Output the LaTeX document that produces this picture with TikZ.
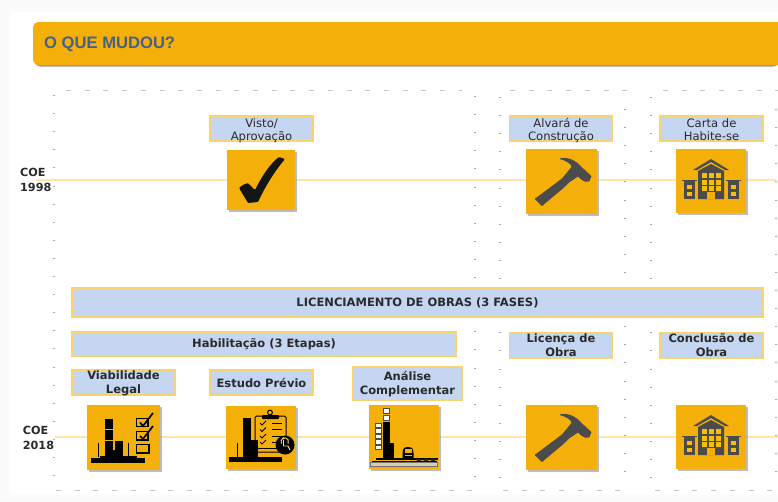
\documentclass[tikz,border=0pt]{standalone}
\usepackage{fontspec}
\setmainfont{DejaVu Sans}
\newfontfamily\headfont{Liberation Sans}
\definecolor{amber}{HTML}{F4AF08}
\definecolor{boxblue}{HTML}{C5D6F2}
\definecolor{boxedge}{HTML}{F9D36F}
\definecolor{timeline}{HTML}{FFE5A8}
\definecolor{dots}{HTML}{C4C4C4}
\definecolor{icongray}{HTML}{4B4B4B}
\definecolor{headtext}{HTML}{46608A}
\definecolor{ink}{HTML}{2A2A2A}
\definecolor{pageback}{HTML}{FBFBFB}
\newcommand{\twolines}[3]{\raisebox{#3}[0pt][0pt]{\begin{tabular}{@{}c@{}}#1\\#2\end{tabular}}}
\tikzset{
  x=1pt,y=-1pt,
  labelbox/.style={draw=boxedge,line width=1.3pt,fill=boxblue,inner sep=0pt,text=ink,align=center},
  plainfont/.style={font=\fontsize{11.6}{13.5}\selectfont},
  boldfont/.style={font=\fontsize{11.5}{13.5}\selectfont\bfseries},
  iconbox/.style={fill=amber,inner sep=0pt,anchor=north west,
    preaction={fill=black!40,opacity=.65,transform canvas={shift={(1.3pt,-1.4pt)}}}},
  hdash/.style={dots,line width=1pt,dash pattern=on 5pt off 13.7pt},
  vdash/.style={dots!85!black,line width=2.8pt,dash pattern=on 1pt off 17.1pt},
  yearlabel/.style={font=\fontsize{11.2}{15}\selectfont\bfseries,text=ink,align=left,inner sep=0pt,anchor=west},
  timelinepath/.style={timeline,line width=1.4pt},
  pics/hammer/.style={code={
    \filldraw[icongray,line width=.8pt,line join=round] (34.3,9.7) .. controls (42,8) and (50,12) .. (55,18) -- (65,27.3) -- (63,32)
      .. controls (60,33) and (58,32) .. (56,30.5) -- (52,27) -- (43,33) -- (38,38) -- (16,56.5)
      -- (9.3,50) -- (32,33) -- (37,29) -- (46,18) .. controls (46,15) and (41,11.5) .. (34.3,9.7) -- cycle;
  }},
  pics/building/.style={code={
    \fill[icongray] (35,10) -- (53,21) -- (49,21) -- (35,13) -- (21,21) -- (17,21) -- cycle;
    \fill[icongray] (35,15) -- (48,22) -- (48,50) -- (22,50) -- (22,22) -- cycle;
    \fill[icongray] (8,32) rectangle (19,50);
    \fill[icongray] (52,32) rectangle (63,50);
    \fill[icongray] (6,30.5) rectangle (21,31.2);
    \fill[icongray] (50,30.5) rectangle (65,31.2);
    \foreach \wx in {25.5,32.6,39.7}{\foreach \wy in {24,30.7,37.4}{
      \fill[amber!80!yellow] (\wx,\wy) rectangle +(5,5);}}
    \fill[amber] (31,43) rectangle (39,50);
    \foreach \wx in {11,55}{\foreach \wy in {36,43}{
      \fill[amber!80!yellow] (\wx,\wy) rectangle +(5.4,4.4);}}
  }}
}
\begin{document}
\begin{tikzpicture}
\useasboundingbox (0,0) rectangle (778,501);
\fill[pageback] (0,0) rectangle (778,501);
\fill[white] (10,12) rectangle (778,495);

% header
\fill[black!40] (34.5,23.5) [rounded corners=6pt] -- (34.5,66.5) -- (779,66.5) [sharp corners] -- (779,23.5) -- cycle;
\fill[amber,rounded corners=6pt] (33,22) -- (33,65) -- (790,65) -- (790,22) -- cycle;
\node[anchor=west,inner sep=0pt,text=headtext,font=\headfont\fontsize{16.6}{18}\selectfont\bfseries] (title) at (44,44) {O QUE MUDOU?};

% dotted frame
\draw[hdash] (66,90) -- (462,90);
\draw[hdash] (510,90) -- (628,90);
\draw[hdash] (663,90) -- (778,90);
\draw[hdash] (56,490) -- (477,490);
\draw[hdash] (503,490) -- (625,490);
\draw[hdash] (655,490) -- (778,490);
\foreach \cx/\cy in {54/95,475/96,500/97,625/109,651/97,776/109}{
  \draw[vdash] (\cx,\cy) -- (\cx,478);
}

% time lines
\coordinate (a1) at (36,180);
\coordinate (a2) at (776,180);
\coordinate (b1) at (55,437);
\coordinate (b2) at (778,437);
\draw[timelinepath] (a1) -- (a2);
\draw[timelinepath] (b1) -- (b2);

\node[yearlabel] (coe98) at (20,179.5) {COE\\1998};
\node[yearlabel] (coe18) at (22.7,437.5) {COE\\2018};

% 1998 row
\node[labelbox,plainfont,minimum width=103pt,minimum height=25pt] (visto) at (261.5,128.5) {\twolines{Visto/}{Aprovação}{-5.8pt}};
\node[labelbox,plainfont,minimum width=103pt,minimum height=25pt] (alvara) at (561,128.5) {\twolines{Alvará de}{Construção}{-5.8pt}};
\node[labelbox,plainfont,minimum width=103pt,minimum height=25pt] (carta) at (711.5,128.5) {\twolines{Carta de}{Habite-se}{-5.8pt}};

\node[iconbox,minimum width=68pt,minimum height=60pt] (icheck) at (227,150) {};
\fill[black!92,rounded corners=1pt] (239,188) .. controls (242,185) and (245,184) .. (248,183)
  -- (255,190) .. controls (262,176) and (270,164) .. (279,157) -- (285,159)
  .. controls (274,172) and (265,187) .. (258,202) -- (248,203) -- cycle;

\node[iconbox,minimum width=71pt,minimum height=65pt] (ihammer1) at (526,149) {};
\pic at (526,149) {hammer};
\node[iconbox,minimum width=70pt,minimum height=64pt] (ibuild1) at (676,149) {};
\pic at (676,149) {building};

% phases
\node[labelbox,boldfont,minimum width=691pt,minimum height=29pt] (fases) at (417.5,302.5) {LICENCIAMENTO DE OBRAS (3 FASES)};
\node[labelbox,boldfont,minimum width=384pt,minimum height=24pt] (habil) at (264,344) {Habilitação (3 Etapas)};
\node[labelbox,boldfont,minimum width=103pt,minimum height=25pt] (licenca) at (561,345.5) {\twolines{Licença de}{Obra}{-4.4pt}};
\node[labelbox,boldfont,minimum width=103pt,minimum height=25pt] (conclusao) at (711.5,345.5) {\twolines{Conclusão de}{Obra}{-4.4pt}};
\node[labelbox,boldfont,minimum width=103pt,minimum height=25pt] (viab) at (123.5,382.5) {\twolines{Viabilidade}{Legal}{-4.4pt}};
\node[labelbox,boldfont,minimum width=103pt,minimum height=25pt] (estudo) at (261.5,382.5) {Estudo Prévio};
\node[labelbox,boldfont,minimum width=109pt,minimum height=33pt] (analise) at (407.5,383.5) {\twolines{Análise}{Complementar}{-4.4pt}};

% Viabilidade icon
\node[iconbox,minimum width=73pt,minimum height=65pt] (iviab) at (87,405) {};
\fill[black] (91,458) rectangle (145,463);
\fill[black] (100,456) rectangle (137,458.5);
\foreach \by in {419,430,441}{\fill[black] (104.5,\by) rectangle +(8.5,10);}
\fill[black] (115,441) rectangle (123,450.5);
\fill[black] (104.5,450) rectangle (123,457);
\draw[black,line width=.7pt] (98,443) -- (98,457) (128,443) -- (128,457);
\draw[black,line width=1.1pt] (136.5,418.5) rectangle (148,426.5) (136.5,431.5) rectangle (148,440) (136.5,444.5) rectangle (149,453);
\draw[black,line width=1.7pt] (140,422.5) -- (143,426) -- (153,413) (140,436) -- (143,439) -- (153,426);

% Estudo icon
\node[iconbox,minimum width=70pt,minimum height=63pt] (iestudo) at (226,406) {};
\fill[black] (229,457) rectangle (282,462);
\fill[black] (243,418) rectangle (251,458);
\fill[black] (251,440) rectangle (258,458);
\draw[black,line width=.7pt] (237,443) -- (237,457);
\draw[black,line width=1pt,rounded corners=1.5pt] (255,416) rectangle (286,452);
\fill[black,rounded corners=1pt] (262,415) rectangle (279,419);
\draw[black,line width=1pt] (270,412.5) circle (2.4);
\foreach \ly in {423,429.5,436,442}{
  \draw[black,line width=1pt] (272,\ly) -- (282,\ly);
  \draw[black,line width=.9pt] (260,\ly) -- (262,{\ly+2}) -- (266,{\ly-2});
}
\draw[black,line width=.8pt] (258,448) -- (276,448);
\fill[black] (285,445) circle (9.5);
\draw[boxedge,line width=.9pt] (283.5,440) -- (283.5,446) -- (288,446) -- (290,450);
\draw[boxedge,line width=.9pt] (281.5,443.5) arc[start angle=150,end angle=390,radius=3.8];
\fill[boxedge] (283.5,438.3) circle (1.1);

% Analise icon
\node[iconbox,minimum width=70pt,minimum height=64pt] (ianalise) at (369,405) {};
\fill[black] (383,422) rectangle (389.5,459);
\fill[black] (389,443) rectangle (394,459);
\foreach \wy in {408,415}{\draw[black!70,fill=white,line width=.5pt] (383.2,\wy) rectangle +(6,5.5);}
\foreach \wy in {423,428.5,434,439.5,445}{\draw[black!70,fill=white,line width=.5pt] (375.5,\wy) rectangle +(6,4.6);}
\fill[black] (376,458) rectangle (438,460);
\fill[black] (372,461) rectangle (437,461.6);
\draw[black!55,fill=boxedge!55!gray!60,line width=.5pt] (370,462) rectangle (437,466);
\fill[black] (402.5,459) -- (402.5,453) .. controls (403,447) and (405,447) .. (408,447) .. controls (411,447) and (413,447) .. (413.5,453) -- (413.5,459) -- cycle;
\fill[amber] (404.5,449) rectangle (411.5,452.5);
\fill[amber] (404.5,455) rectangle (411.5,456);
\foreach \cx in {419,426,433}{\fill[black!85] (\cx,458.5) ++(-3,0) arc[start angle=180,end angle=0,radius=3] -- cycle;}

% 2018 row
\node[iconbox,minimum width=71pt,minimum height=65pt] (ihammer2) at (526,405) {};
\pic at (526,405) {hammer};
\node[iconbox,minimum width=70pt,minimum height=64pt] (ibuild2) at (676,405) {};
\pic at (676,405) {building};
\end{tikzpicture}
\end{document}
